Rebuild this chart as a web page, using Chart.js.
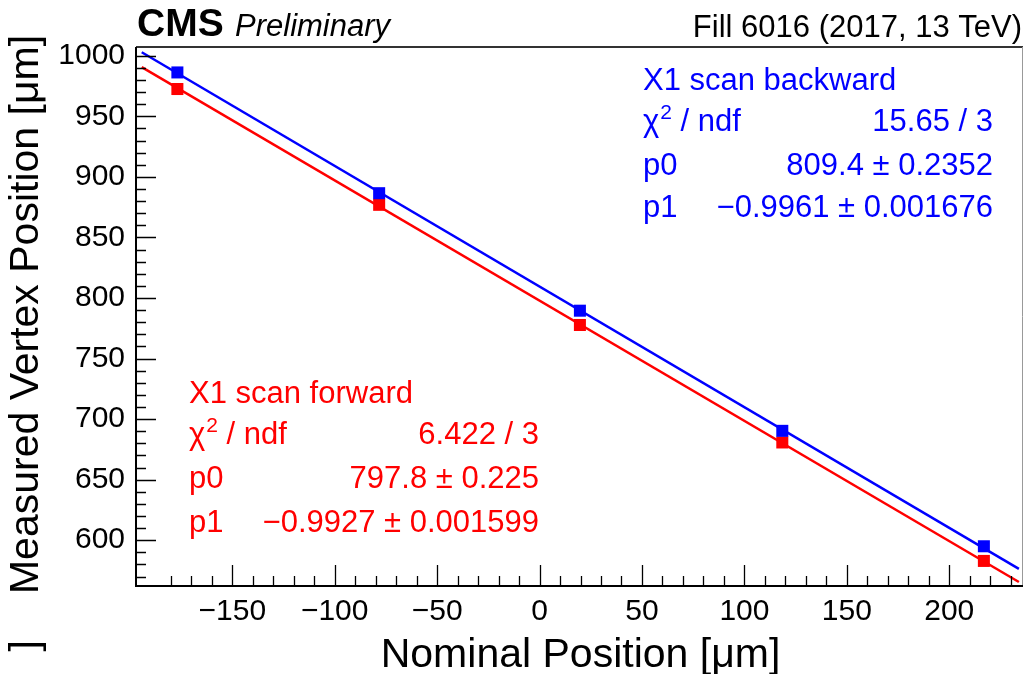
<!DOCTYPE html>
<html>
<head>
<meta charset="utf-8">
<script src="https://cdn.jsdelivr.net/npm/chart.js@4.4.0/dist/chart.umd.min.js"></script>
<style>
html, body { margin: 0; padding: 0; background: #fff; }
</style>
</head>
<body>
<canvas id="vdm" width="1024" height="674"></canvas>
<script>
// Nominal beam positions of the X1 scan steps [um]
var nominal = [-176.8, -78.3, 19.7, 118.5, 216.9];
// Measured vertex positions [um]
var vtxForward = [972.5, 876.9, 777.7, 680.7, 582.9];
var vtxBackward = [986.2, 886.5, 789.5, 690.3, 595.0];

// Linear fit parameters [p0, p1] and the range the fit function is drawn over
var fitForward = [797.8, -0.9927];
var fitBackward = [809.4, -0.9961];
var fitRange = [-194.2, 234.0];

// Stat box contents
var statsForward = ['X1 scan forward', '6.422 / 3', '797.8 \u00b1 0.225', '\u22120.9927 \u00b1 0.001599'];
var statsBackward = ['X1 scan backward', '15.65 / 3', '809.4 \u00b1 0.2352', '\u22120.9961 \u00b1 0.001676'];

// Axis ticks
var xTickVals = [-150, -100, -50, 0, 50, 100, 150, 200];
var yTickVals = [600, 650, 700, 750, 800, 850, 900, 950, 1000];
var xRange = [-197, 236];
var yRange = [562.2, 1007.2];

var FONT = '"Liberation Sans", Arial, Helvetica, sans-serif';
var BLUE = '#0000ff';
var RED = '#ff0000';

function points(ys) {
	return nominal.map(function (x, i) { return {x: x, y: ys[i]}; });
}
function fitLine(par) {
	return fitRange.map(function (x) { return {x: x, y: par[0] + par[1] * x}; });
}
function fmt(v) {
	return v < 0 ? '\u2212' + Math.abs(v) : String(v);
}

function txt(ctx, s, x, y, font, color, align) {
	ctx.font = font;
	ctx.fillStyle = color;
	ctx.textAlign = align || 'left';
	ctx.textBaseline = 'alphabetic';
	ctx.fillText(s, x, y);
}

// chi2 / ndf label with superscript
function chiLabel(ctx, x, y, color) {
	txt(ctx, '\u03c7', x, y, '31px ' + FONT, color);
	var w = ctx.measureText('\u03c7').width;
	txt(ctx, '2', x + w + 1, y - 12, '21px ' + FONT, color);
	var w2 = ctx.measureText('2').width;
	txt(ctx, ' / ndf', x + w + 1 + w2, y, '31px ' + FONT, color);
}

function statBox(ctx, lines, left, right, baselines, color) {
	var f = '31px ' + FONT;
	txt(ctx, lines[0], left, baselines[0], f, color);
	chiLabel(ctx, left, baselines[1], color);
	txt(ctx, lines[1], right, baselines[1], f, color, 'right');
	txt(ctx, 'p0', left, baselines[2], f, color);
	txt(ctx, lines[2], right, baselines[2], f, color, 'right');
	txt(ctx, 'p1', left, baselines[3], f, color);
	txt(ctx, lines[3], right, baselines[3], f, color, 'right');
}

// frame, inward ticks and all the labels that are not tick labels
var rootFrame = {
	id: 'rootFrame',
	afterDraw: function (chart) {
		var ctx = chart.ctx;
		var a = chart.chartArea;
		var xs = chart.scales.x, ys = chart.scales.y;
		ctx.save();

		// top and right frame
		ctx.strokeStyle = '#333';
		ctx.lineWidth = 2;
		ctx.beginPath();
		ctx.moveTo(a.left, a.top);
		ctx.lineTo(a.right, a.top);
		ctx.stroke();
		ctx.strokeStyle = '#999';
		ctx.lineWidth = 1;
		ctx.beginPath();
		ctx.moveTo(a.right - 0.5, a.top);
		ctx.lineTo(a.right - 0.5, a.bottom);
		ctx.stroke();

		// axes
		ctx.strokeStyle = '#000';
		ctx.lineWidth = 2;
		ctx.beginPath();
		ctx.moveTo(a.left, a.top);
		ctx.lineTo(a.left, a.bottom);
		ctx.lineTo(a.right, a.bottom);
		ctx.stroke();

		// ticks, pointing into the frame
		ctx.lineWidth = 1.3;
		ctx.beginPath();
		for (var v = -180; v <= 230; v += 10) {
			var px = Math.round(xs.getPixelForValue(v)) + 0.5;
			var len = v % 50 === 0 ? 21 : 10;
			ctx.moveTo(px, a.bottom);
			ctx.lineTo(px, a.bottom - len);
		}
		for (var w = 570; w <= 1000; w += 10) {
			var py = Math.round(ys.getPixelForValue(w)) + 0.5;
			var l2 = w % 50 === 0 ? 20 : 10;
			ctx.moveTo(a.left, py);
			ctx.lineTo(a.left + l2, py);
		}
		ctx.stroke();

		// header
		txt(ctx, 'CMS', 137, 36, 'bold 39px ' + FONT, '#000');
		txt(ctx, 'Preliminary', 235, 36, 'italic 31px ' + FONT, '#000');
		txt(ctx, 'Fill 6016 (2017, 13 TeV)', 1022, 37, '31px ' + FONT, '#000', 'right');

		// axis titles
		txt(ctx, 'Nominal Position [\u03bcm]', (a.left + a.right) / 2 + 1, 667, '41px ' + FONT, '#000', 'center');
		ctx.save();
		ctx.translate(38, (a.top + a.bottom) / 2 - 2);
		ctx.rotate(-Math.PI / 2);
		txt(ctx, 'Measured Vertex Position [\u03bcm]', 0, 0, '41px ' + FONT, '#000', 'center');
		ctx.restore();
		ctx.save();
		ctx.translate(38, 640);
		ctx.rotate(-Math.PI / 2);
		txt(ctx, ']', 0, 0, '41px ' + FONT, '#000', 'right');
		ctx.restore();

		// fit results
		statBox(ctx, statsBackward, 643, 993, [90, 131, 175, 217], BLUE);
		statBox(ctx, statsForward, 189, 539, [403, 444, 488, 532], RED);

		ctx.restore();
	}
};

var tickFont = {family: FONT, size: 30};

var chart = new Chart(document.getElementById('vdm'), {
	type: 'scatter',
	data: {
		datasets: [
			{
				label: 'X1 scan backward',
				data: points(vtxBackward),
				pointStyle: 'rect',
				pointRadius: 8.5,
				backgroundColor: BLUE,
				borderWidth: 0
			},
			{
				label: 'X1 scan forward',
				data: points(vtxForward),
				pointStyle: 'rect',
				pointRadius: 8.5,
				backgroundColor: RED,
				borderWidth: 0
			},
			{
				label: 'fit backward',
				type: 'line',
				data: fitLine(fitBackward),
				borderColor: BLUE,
				borderWidth: 2.5,
				pointRadius: 0,
				fill: false
			},
			{
				label: 'fit forward',
				type: 'line',
				data: fitLine(fitForward),
				borderColor: RED,
				borderWidth: 2.5,
				pointRadius: 0,
				fill: false
			}
		]
	},
	options: {
		responsive: false,
		animation: false,
		devicePixelRatio: 1,
		layout: {
			autoPadding: false,
			padding: {top: 47, right: 1, left: 0, bottom: 0}
		},
		plugins: {
			legend: {display: false},
			tooltip: {enabled: false}
		},
		scales: {
			x: {
				type: 'linear',
				min: xRange[0],
				max: xRange[1],
				afterBuildTicks: function (s) { s.ticks = xTickVals.map(function (v) { return {value: v}; }); },
				afterFit: function (s) {
					s.height = 88;
					s.paddingLeft = 0;
					s.paddingRight = 0;
				},
				grid: {display: false, drawTicks: false},
				border: {display: false},
				ticks: {
					padding: 8,
					font: tickFont,
					color: '#000',
					autoSkip: false,
					maxRotation: 0,
					minRotation: 0,
					callback: function (v) { return fmt(v); }
				}
			},
			y: {
				type: 'linear',
				min: yRange[0],
				max: yRange[1],
				afterBuildTicks: function (s) { s.ticks = yTickVals.map(function (v) { return {value: v}; }); },
				afterFit: function (s) {
					s.width = 136;
					s.paddingTop = 0;
					s.paddingBottom = 0;
				},
				grid: {display: false, drawTicks: false},
				border: {display: false},
				ticks: {
					padding: 11,
					font: tickFont,
					color: '#000',
					autoSkip: false,
					callback: function (v) { return fmt(v); }
				}
			}
		}
	},
	plugins: [rootFrame]
});
</script>
</body>
</html>
